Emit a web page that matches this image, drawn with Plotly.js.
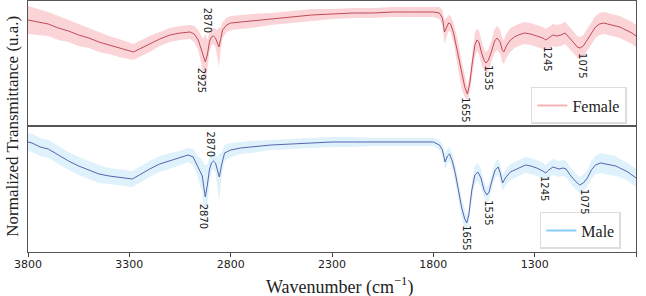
<!DOCTYPE html>
<html>
<head>
<meta charset="utf-8">
<script src="https://cdn.plot.ly/plotly-3.0.1.min.js"></script>
<style>html,body{margin:0;padding:0;background:#fff;}#chart{width:646px;height:296px;}</style>
</head>
<body>
<div id="chart"></div>
<script>
// Female spectrum (normalized transmittance, arbitrary units) and its spread
const femaleWavenumber = [3800,3750,3700,3650,3600,3550,3500,3450,3400,3350,3300,3280,3250,3200,3150,3100,3050,3000,2980,2960,2945,2935,2925,2915,2905,2895,2885,2875,2865,2858,2850,2840,2820,2800,2750,2700,2600,2500,2400,2300,2200,2100,2000,1900,1800,1770,1755,1745,1735,1725,1715,1700,1690,1675,1660,1645,1632,1620,1608,1595,1585,1575,1562,1548,1540,1528,1512,1498,1485,1470,1460,1452,1440,1420,1400,1380,1350,1320,1290,1260,1245,1230,1210,1190,1170,1150,1130,1110,1090,1075,1060,1040,1020,1000,980,960,940,920,900,880,860,840,820,800];
const femaleMean = [105,103,101,97,94,90,87,83,80,77,74,73,76,81,86,90,92,93,91,85,75,68,63,70,83,88,89,87,81,78,85,95,100,102,103,104,106,108,110,111,112,112,113,113,113,112,107,93,97,102,101,92,82,66,50,38,31,42,62,80,85,83,72,64,62,65,74,84,87,83,75,73,79,85,88,90,92,91,89,87,85,87,90,89,90,92,88,83,78,77,79,85,92,98,101,102,101,100,99,98,96,94,92,89];
const femaleStd = [14,13,12,12,11,11,10,10,9,9,8,8,8,8,7,7,7,7,8,10,14,18,28,15,10,8,8,9,14,20,12,8,7,7,7,7,6,6,6,5,5,5,5,5,5,6,8,12,10,8,8,10,12,15,14,10,7,9,11,12,11,12,12,11,11,11,11,12,12,12,12,12,12,12,11,11,11,11,11,11,11,11,11,11,11,11,11,11,11,11,11,11,11,11,11,11,11,11,11,11,11,11,11,11];

// Male spectrum
const maleWavenumber = [3800,3780,3760,3740,3720,3700,3650,3600,3550,3500,3450,3400,3350,3300,3285,3250,3200,3150,3100,3050,3010,2985,2965,2950,2940,2932,2925,2915,2905,2895,2885,2875,2865,2856,2845,2830,2800,2750,2700,2600,2500,2400,2300,2200,2100,2000,1900,1800,1770,1755,1742,1730,1720,1705,1690,1675,1660,1645,1635,1625,1610,1595,1580,1565,1550,1536,1525,1510,1495,1480,1470,1458,1445,1420,1400,1370,1345,1320,1290,1260,1245,1230,1210,1180,1160,1145,1125,1100,1078,1060,1040,1020,1000,975,950,920,900,880,860,840,820,800];
const maleMean = [110,109,107,105,104,103,97,91,86,82,78,76,75,74,73,77,83,88,91,94,97,95,87,80,76,64,55,67,82,89,91,89,81,75,87,99,102,104,105,107,108,109,110,110,110,110,110,110,107,102,90,96,98,90,77,60,44,33,29,37,62,77,80,74,62,57,60,72,82,85,79,69,74,80,82,85,87,86,84,81,79,82,85,83,84,83,77,71,67,69,74,82,87,89,88,87,86,84,82,80,77,74];
const maleStd = [9,9,9,9,9,9,9,9,9,9,9,8,8,8,8,8,8,8,8,7,7,8,10,14,16,24,32,20,12,9,8,9,14,24,12,8,7,6,6,5,5,5,5,5,4,4,4,4,5,6,8,7,7,8,9,10,10,10,8,8,9,9,9,9,8,8,8,8,8,8,8,8,8,8,8,8,8,8,8,8,8,8,8,8,8,8,8,8,8,8,8,9,9,10,10,10,10,9,9,9,9,9];

// Peak labels
const femalePeakText = ["2870","2925","1655","1535","1245","1075"];
const femalePeakX = [2910,2940,1640,1526,1235,1062];
const femalePeakY = [105,45,15,47,66,59];
const malePeakText = ["2870","2870","1655","1535","1245","1075"];
const malePeakX = [2900,2935,1640,1531,1254,1057];
const malePeakY = [108,36,14,39,63,50];

const xTickVals = [3800,3300,2800,2300,1800,1300,800];

function band(wn, mean, std, xa, ya, fill, lineColor) {
  const up = mean.map((v,i)=>v+std[i]);
  const lo = mean.map((v,i)=>v-std[i]);
  return [
    {x: wn, y: lo, xaxis: xa, yaxis: ya, mode:'lines', line:{width:0,color:fill}, showlegend:false, hoverinfo:'skip'},
    {x: wn, y: up, xaxis: xa, yaxis: ya, mode:'lines', line:{width:0,color:fill}, fill:'tonexty', fillcolor: fill, showlegend:false, hoverinfo:'skip'},
    {x: wn, y: mean, xaxis: xa, yaxis: ya, mode:'lines', line:{width:1,color:lineColor}, showlegend:false}
  ];
}

const data = [
  ...band(femaleWavenumber, femaleMean, femaleStd, 'x2', 'y2', 'rgba(246,160,166,0.45)', '#c04a58'),
  {x:[null], y:[null], xaxis:'x2', yaxis:'y2', mode:'lines', name:'Female', line:{color:'#f8b4ba', width:2}, legend:'legend'},
  ...band(maleWavenumber, maleMean, maleStd, 'x', 'y', 'rgba(150,208,238,0.3)', '#5565b0'),
  {x:[null], y:[null], xaxis:'x', yaxis:'y', mode:'lines', name:'Male', line:{color:'#87cefa', width:2}, legend:'legend2'}
];

const annotations = [];
femalePeakText.forEach((t,i)=>annotations.push({x:femalePeakX[i], y:femalePeakY[i], xref:'x2', yref:'y2', text:t, textangle:90, showarrow:false, font:{family:'DejaVu Sans', size:10, color:'#222'}}));
malePeakText.forEach((t,i)=>annotations.push({x:malePeakX[i], y:malePeakY[i], xref:'x', yref:'y', text:t, textangle:90, showarrow:false, font:{family:'DejaVu Sans', size:10, color:'#222'}}));
annotations.push({xref:'paper', yref:'paper', x:-0.026, y:0.5, xanchor:'center', yanchor:'middle', text:'Normalized Transmittance (u.a.)', textangle:-90, showarrow:false, font:{family:'Liberation Serif', size:17, color:'#222'}});
annotations.push({xref:'paper', yref:'paper', x:0.513, y:-0.135, xanchor:'center', yanchor:'middle', text:'Wavenumber (cm<sup>−1</sup>)', showarrow:false, font:{family:'Liberation Serif', size:18, color:'#222'}});

const axLine = {showline:true, mirror:true, linecolor:'#555', linewidth:1.2, showgrid:false, zeroline:false};
const legendBase = {xanchor:'right', yanchor:'bottom', bgcolor:'rgba(255,255,255,0.9)', bordercolor:'#ddd', borderwidth:1.5, font:{family:'Liberation Serif', size:16, color:'#222'}};

const layout = {
  width:646, height:296,
  margin:{l:28, r:10, t:1, b:44},
  paper_bgcolor:'#fff', plot_bgcolor:'#fff',
  showlegend:true,
  xaxis: Object.assign({}, axLine, {mirror:false, anchor:'y', range:[3800,800], tickvals:xTickVals, ticks:'outside', ticklen:4, tickcolor:'#444', ticklabelstandoff:-2, tickfont:{family:'DejaVu Sans', size:11, color:'#222'}}),
  xaxis2: Object.assign({}, axLine, {anchor:'y2', matches:'x', range:[3800,800], showticklabels:false, ticks:''}),
  yaxis: Object.assign({}, axLine, {domain:[0,0.504], range:[0,126.5], showticklabels:false, ticks:''}),
  yaxis2: Object.assign({}, axLine, {domain:[0.504,1], range:[-0.5,124], showticklabels:false, ticks:''}),
  legend: Object.assign({}, legendBase, {x:0.985, y:0.51}),
  legend2: Object.assign({}, legendBase, {x:0.975, y:0.012}),
  annotations: annotations
};

Plotly.newPlot('chart', data, layout, {staticPlot:true, displayModeBar:false});
</script>
</body>
</html>
